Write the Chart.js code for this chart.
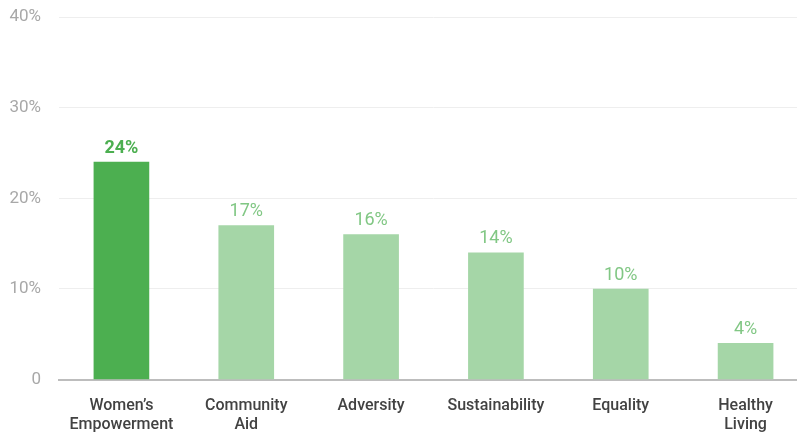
<!DOCTYPE html>
<html>
<head>
<meta charset="utf-8">
<script src="https://cdn.jsdelivr.net/npm/chart.js@4.4.1/dist/chart.umd.min.js"></script>
<style>
  html, body { margin: 0; padding: 0; background: #fff; overflow: hidden; }
  #wrap { width: 797px; height: 436px; overflow: hidden; }
  #chart { display: block; margin-top: -11px; }
</style>
</head>
<body>
<div id="wrap"><canvas id="chart" width="808" height="447"></canvas></div>
<script>
const categories = [['Women\u2019s', 'Empowerment'], ['Community', 'Aid'], 'Adversity', 'Sustainability', 'Equality', ['Healthy', 'Living']];
const shares = [24, 17, 16, 14, 10, 4];
const yTicks = [0, 10, 20, 30, 40];
const highlightIndex = 0;

const dark = '#4caf50';
const light = '#a5d6a7';

// value labels above bars
const barLabels = {
    id: 'barLabels',
    afterDatasetsDraw(chart) {
        const ctx = chart.ctx;
        const meta = chart.getDatasetMeta(0);
        ctx.save();
        ctx.textAlign = 'center';
        ctx.textBaseline = 'bottom';
        meta.data.forEach(function(bar, i) {
            if (i === highlightIndex) {
                ctx.font = 'bold 18px Roboto';
                ctx.fillStyle = dark;
            } else {
                ctx.font = '18px Roboto';
                ctx.fillStyle = '#81c784';
            }
            ctx.fillText(shares[i] + '%', bar.x, bar.y - 5);
        });
        ctx.restore();
    }
};

new Chart(document.getElementById('chart'), {
    type: 'bar',
    data: {
        labels: categories,
        datasets: [{
            data: shares,
            backgroundColor: shares.map((v, i) => i === highlightIndex ? dark : light),
            barThickness: 55
        }]
    },
    options: {
        responsive: false,
        animation: false,
        layout: { padding: { top: -2, bottom: -8, left: 0 } },
        plugins: { legend: { display: false }, tooltip: { enabled: false } },
        scales: {
            x: {
                grid: { display: false },
                border: { color: '#bdbdbd', width: 2 },
                ticks: {
                    color: '#424242',
                    font: { family: 'Roboto', size: 16, weight: '500' },
                    padding: 9,
                    maxRotation: 0
                }
            },
            y: {
                min: 0,
                max: 40,
                afterBuildTicks(axis) { axis.ticks = yTicks.map(v => ({ value: v })); },
                afterFit(axis) { axis.width = 59; },
                grid: { color: '#eeeeee', drawTicks: false },
                border: { display: false },
                ticks: {
                    color: '#a8a8a8',
                    font: { family: 'Roboto', size: 17 },
                    padding: 18,
                    callback: v => v === 0 ? '0' : v + '%'
                }
            }
        }
    },
    plugins: [barLabels]
});
</script>
</body>
</html>
